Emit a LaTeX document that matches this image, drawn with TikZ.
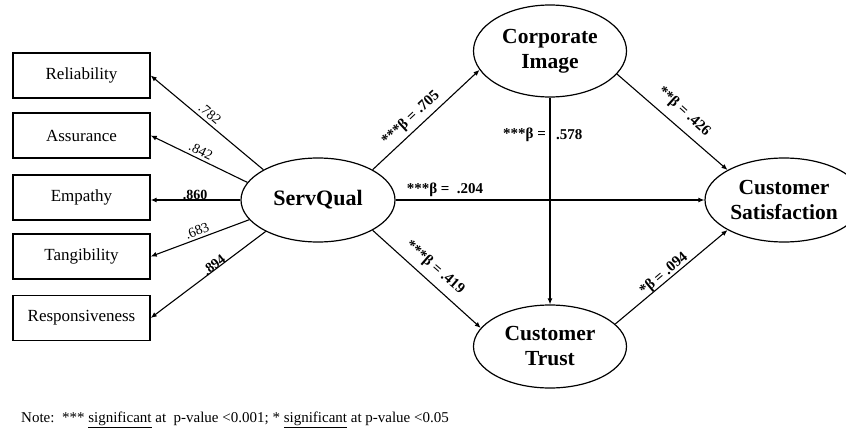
\documentclass[tikz,border=0pt]{standalone}
\usepackage{fontspec}
\setmainfont{Liberation Serif}
\usetikzlibrary{shapes.geometric,arrows.meta}
\begin{document}
\begin{tikzpicture}[x=1pt,y=-1pt,
  box/.style={draw,line width=1.4pt,minimum width=137pt,minimum height=45pt,inner sep=0pt,font=\fontsize{17}{20}\selectfont},
  lat/.style={draw,ellipse,line width=1.2pt,inner sep=0pt,align=center,font=\fontsize{21.5}{25}\selectfont\bfseries},
  arr/.style={line width=1.1pt,-{Latex[length=6pt,width=5pt]}},
  coef/.style={font=\fontsize{14}{16}\selectfont,inner sep=1pt},
  bcoef/.style={font=\fontsize{14}{16}\selectfont\bfseries,inner sep=1pt},
  beta/.style={font=\fontsize{15}{17}\selectfont\bfseries,inner sep=1pt}]
\useasboundingbox (0,0) rectangle (846,428);
\fill[white] (0,0) rectangle (846,428);

% indicator boxes
\node[box] (rel) at (81.5,75.5) {Reliability};
\node[box] (ass) at (81.5,135.5) {Assurance};
\node[box] (emp) at (81.5,197.5) {Empathy};
\node[box] (tan) at (81.5,256.5) {Tangibility};
\node[box] (res) at (81.5,318) {Responsiveness};

% latent constructs
\node[lat,minimum width=154pt,minimum height=84pt,font=\fontsize{22}{25}\selectfont\bfseries] (sq) at (318,200) {ServQual};
\node[lat,minimum width=153pt,minimum height=92pt] (ci) at (550,51) {Corporate\\Image};
\node[lat,minimum width=153pt,minimum height=83pt] (ct) at (550,346.5) {Customer\\Trust};
\node[lat,minimum width=158pt,minimum height=84pt] (cs) at (784,200) {Customer\\Satisfaction};

% measurement arrows
\draw[arr] (sq.151) -- (rel.east);
\draw[arr] (sq.166) -- (ass.east);
\draw[arr] (sq.west) -- (sq.west -| emp.east);
\draw[arr] (sq.196) -- (tan.east);
\draw[arr] (sq.211) -- (res.east);

% structural arrows
\draw[arr] (sq.29) -- (ci.195);
\draw[arr] (sq.east) -- (cs.west);
\draw[arr] (sq.-29) -- (ct.165);
\draw[arr] (ci.south) -- (ct.north);
\draw[arr] (ci.-19) -- (cs.152);
\draw[arr] (ct.19) -- (cs.208);

% loadings
\node[coef,rotate=-40] (l1) at (210,114) {.782};
\node[coef,rotate=-26] (l2) at (201,151) {.842};
\node[bcoef] (l3) at (195,195) {.860};
\node[coef,rotate=22] (l4) at (197,231) {.683};
\node[bcoef,rotate=38] (l5) at (214,265) {.894};

% path coefficients
\node[beta,rotate=43] (b1) at (411,118) {***β = .705};
\node[beta] (b2) at (445,190) {***β =\ \ .204};
\node[beta,anchor=east] (b3a) at (547,135) {***β =};
\node[beta,anchor=west] (b3b) at (555,135) {.578};
\node[beta,rotate=-42] (b4) at (684,112) {**β = .426};
\node[beta,rotate=-41] (b5) at (435,268) {***β = .419};
\node[beta,rotate=40] (b6) at (664,274) {*β = .094};

% note
\node[anchor=west,inner sep=0pt,font=\fontsize{15}{17}\selectfont] (note) at (21,420)
  {Note:\ \ *** \underline{significant} at\ \ p-value <0.001; * \underline{significant} at p-value <0.05};
\end{tikzpicture}
\end{document}
